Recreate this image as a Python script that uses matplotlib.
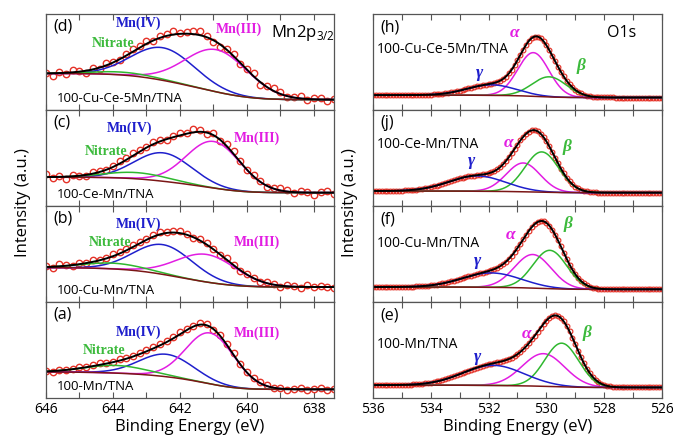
import numpy as np
import matplotlib.pyplot as plt
from matplotlib.ticker import MultipleLocator

plt.rcParams['font.family'] = ['Open Sans', 'DejaVu Sans']

# ---- data (intensity in arbitrary units, 0-100 per panel) ----
# Mn 2p3/2 panels, top to bottom
mn_tags = ['(d)', '(c)', '(b)', '(a)']
mn_samples = ['100-Cu-Ce-5Mn/TNA', '100-Ce-Mn/TNA', '100-Cu-Mn/TNA', '100-Mn/TNA']
# component order: Mn(IV), Mn(III), Nitrate
mn_center = [[642.5, 640.9, 643.7], [642.5, 641.0, 643.3],
             [642.5, 641.2, 644.0], [642.4, 641.1, 643.9]]
mn_height = [[34.0, 44.0, 3.0], [29.6, 48.6, 6.5],
             [31.0, 28.8, 6.0], [23.4, 53.0, 8.0]]
mn_fwhm = [[2.2, 2.2, 2.2], [2.0, 1.9, 2.2],
           [2.05, 2.1, 2.2], [1.9, 1.7, 2.2]]
mn_bg_left = [38.0, 30.0, 35.8, 27.1]
mn_bg_right = [10.8, 13.9, 15.6, 9.0]
# measured points minus fit, every 0.2 eV from 646.0 to 637.2
mn_resid = [
    [0.5, -2.5, 1.0, -1.5, 2.0, 0.5, -2.0, 1.5, -1.0, 2.5, 1.0, -0.5, 2.0, 3.0, 1.5,
     2.5, -1.0, 1.5, 2.0, 3.5, 1.0, 2.0, 3.0, 4.0, 1.5, -2.0, -3.0, 1.0, 2.5, -1.5,
     0.5, 3.0, -2.5, 1.5, 3.5, 2.0, -1.0, 0.5, 2.5, -1.5, 1.0, 2.0, -2.0, 0.5, 1.5],
    [3.0, -1.5, 1.0, -2.0, 1.5, 0.0, -1.0, 1.5, 0.5, -0.5, 1.0, 2.5, 2.0, 3.0, 1.5,
     0.5, 2.0, 1.0, -1.0, 1.5, 2.5, 1.0, 3.5, 1.5, -1.0, 2.0, -1.5, 2.5, 3.0, 1.0,
     -0.5, 2.0, 1.0, -1.5, 0.5, 2.5, 1.5, -1.0, 1.5, 0.5, -2.0, 1.0, 2.0, -1.5, 0.5],
    [1.0, -1.0, 2.0, 0.5, -0.5, 1.0, 0.0, 1.5, 0.5, 1.0, 2.0, 1.5, 1.0, 2.0, 1.5,
     1.0, 2.0, 2.5, 1.0, 1.5, 2.0, 1.0, -0.5, 1.5, 2.0, 0.5, -1.0, 1.5, 0.5, -0.5,
     1.0, 0.0, -1.0, 1.0, 0.5, -1.5, 1.5, 0.5, -1.0, 1.5, -0.5, 1.0, 0.5, -1.0, 0.5],
    [0.5, -0.5, 0.5, 0.0, 0.5, 1.0, 0.5, 1.0, 1.5, 1.0, 0.5, 1.5, 1.0, 0.5, 1.5,
     1.0, 2.0, 1.5, 1.0, 1.5, 2.0, 1.0, 0.5, 1.5, 1.0, -0.5, 0.5, 1.0, 1.5, 0.5,
     1.0, 0.5, 1.5, 1.0, 0.0, 1.0, -0.5, 0.5, 1.0, -0.5, 0.5, 1.0, -0.5, 0.5, 0.0],
]

# O 1s panels, top to bottom
o_tags = ['(h)', '(j)', '(f)', '(e)']
o_samples = ['100-Cu-Ce-5Mn/TNA', '100-Ce-Mn/TNA', '100-Cu-Mn/TNA', '100-Mn/TNA']
# component order: alpha, beta, gamma
o_center = [[530.45, 529.9, 531.9], [530.8, 530.16, 532.4],
            [530.47, 529.88, 531.9], [530.1, 529.47, 531.84]]
o_height = [[45.5, 21.0, 11.0], [30.0, 42.0, 16.0],
            [35.0, 40.0, 15.0], [34.0, 45.5, 21.0]]
o_fwhm = [[1.27, 1.4, 2.0], [1.38, 1.38, 2.3],
          [1.5, 1.38, 2.4], [1.73, 1.38, 2.5]]
o_bg_left = [15.5, 15.6, 15.6, 13.4]
o_bg_right = [13.0, 13.9, 13.2, 11.0]

mn_ticks = [646, 644, 642, 640, 638]
o_ticks = [536, 534, 532, 530, 528, 526]

C_RED = '#e53228'
C_BLUE = '#1f1fcc'
C_MAG = '#e21de2'
C_GREEN = '#2fb82f'
C_BROWN = '#7b1616'


def peaks(x, centers, heights, fwhms):
    out = []
    for c, h, w in zip(centers, heights, fwhms):
        s = w / 2.3548
        out.append(h * np.exp(-(x - c) ** 2 / (2 * s * s)))
    return out


def shirley(x, total, b_left, b_right):
    # x runs from high to low binding energy
    rev = total[::-1]
    cum = np.cumsum(rev)
    frac = (cum / cum[-1])[::-1]
    return b_right + (b_left - b_right) * frac


fig = plt.figure(figsize=(6.73, 4.41), dpi=100)
W, H = 673.0, 441.0
top_px, bot_px = 14.0, 398.0
ph = (bot_px - top_px) / 4


def make_axes(left_px, right_px, i):
    # i = 0 is the top panel
    y_bottom = top_px + (i + 1) * ph
    return fig.add_axes([left_px / W, 1 - y_bottom / H,
                         (right_px - left_px) / W, ph / H])


def style(ax, xlim, ticks, last):
    ax.set_xlim(*xlim)
    ax.set_ylim(0, 100)
    ax.set_yticks([])
    ax.xaxis.set_minor_locator(MultipleLocator(1))
    ax.set_xticks(ticks)
    ax.tick_params(axis='x', which='both', direction='in', top=True,
                   length=4, width=0.8, color='#555555', labelsize=10, pad=3)
    for sp in ax.spines.values():
        sp.set_color('#555555')
        sp.set_linewidth(0.9)
    if not last:
        ax.set_xticklabels([])
    else:
        ax.set_xlabel('Binding Energy (eV)', fontsize=12, labelpad=1)


# Mn label positions (eV, y) for Mn(IV), Mn(III), Nitrate
mn_lab = [[(643.25, 90), (640.25, 84), (644.0, 69)],
          [(643.5, 81), (639.7, 71), (644.2, 57)],
          [(643.25, 81), (639.7, 62), (644.1, 62)],
          [(643.25, 68), (639.7, 67), (644.25, 49)]]
mn_names = ['Mn(IV)', 'Mn(III)', 'Nitrate']
mn_cols = [C_BLUE, C_MAG, '#3cba3c']
xm = np.linspace(646.2, 637.0, 600)
xm_pts = np.round(np.arange(646.0, 637.15, -0.2), 2)

for i in range(4):
    ax = make_axes(46, 334, i)
    comps = peaks(xm, mn_center[i], mn_height[i], mn_fwhm[i])
    tot = np.sum(comps, axis=0)
    bg = shirley(xm, tot, mn_bg_left[i], mn_bg_right[i])
    cp = peaks(xm_pts, mn_center[i], mn_height[i], mn_fwhm[i])
    tp = np.sum(cp, axis=0)
    bgp = np.interp(xm_pts[::-1], xm[::-1], bg[::-1])[::-1]
    meas = tp + bgp + np.array(mn_resid[i])
    ax.plot(xm_pts, meas, 'o', ms=4.6, mfc='none', mec=C_RED, mew=1.0)
    for comp, col in zip(comps, [C_BLUE, C_MAG, C_GREEN]):
        ax.plot(xm, comp + bg, color=col, lw=1.1)
    ax.plot(xm, bg, color=C_BROWN, lw=1.1)
    ax.plot(xm, tot + bg, color='black', lw=1.4)
    for (lx, ly), name, col in zip(mn_lab[i], mn_names, mn_cols):
        ax.text(lx, ly, name, color=col, fontsize=10, fontweight='bold',
                family='Liberation Serif', ha='center', va='center')
    ax.text(0.025, 0.87, mn_tags[i], transform=ax.transAxes, fontsize=11.5,
            va='center', ha='left')
    ax.text(0.037, 0.12, mn_samples[i], transform=ax.transAxes, fontsize=9.5,
            va='center', ha='left')
    if i == 0:
        ax.text(0.78, 0.8, r'Mn2p$_{\mathregular{3/2}}$', transform=ax.transAxes,
                fontsize=12, va='center', ha='left')
    style(ax, (646, 637.4), mn_ticks, i == 3)

# O 1s label positions (eV, y) for alpha, beta, gamma
o_lab = [[(531.1, 80), (528.8, 46), (532.3, 39)],
         [(531.3, 66), (529.3, 61), (532.6, 47)],
         [(531.25, 70), (529.25, 81), (532.4, 43)],
         [(530.7, 67), (528.6, 68), (532.4, 43)]]
o_greek = ['α', 'β', 'γ']
o_cols = [C_MAG, '#3cba3c', C_BLUE]
o_sample_y = [0.63, 0.64, 0.61, 0.56]
xo = np.linspace(536.2, 525.8, 600)
xo_pts = np.round(np.arange(536.0, 525.95, -0.1), 2)

for i in range(4):
    ax = make_axes(373, 662, i)
    comps = peaks(xo, o_center[i], o_height[i], o_fwhm[i])
    tot = np.sum(comps, axis=0)
    bg = shirley(xo, tot, o_bg_left[i], o_bg_right[i])
    cp = peaks(xo_pts, o_center[i], o_height[i], o_fwhm[i])
    tp = np.sum(cp, axis=0)
    bgp = np.interp(xo_pts[::-1], xo[::-1], bg[::-1])[::-1]
    ax.plot(xo_pts, tp + bgp, 'o', ms=3.4, mfc='none', mec=C_RED, mew=0.85)
    for comp, col in zip(comps, [C_MAG, C_GREEN, C_BLUE]):
        ax.plot(xo, comp + bg, color=col, lw=1.1)
    ax.plot(xo, bg, color=C_BROWN, lw=1.1)
    ax.plot(xo, tot + bg, color='black', lw=1.4)
    for (lx, ly), name, col in zip(o_lab[i], o_greek, o_cols):
        ax.text(lx, ly, name, color=col, fontsize=12.5, fontweight='bold',
                style='italic', family='Liberation Serif', ha='center', va='center')
    ax.text(0.024, 0.86, o_tags[i], transform=ax.transAxes, fontsize=11.5,
            va='center', ha='left')
    ax.text(0.012, o_sample_y[i], o_samples[i], transform=ax.transAxes,
            fontsize=10, va='center', ha='left')
    if i == 0:
        ax.text(0.81, 0.8, 'O1s', transform=ax.transAxes, fontsize=11.5,
                va='center', ha='left')
    style(ax, (536, 526), o_ticks, i == 3)

fig.text(23 / W, 1 - 203 / H, 'Intensity (a.u.)', rotation=90, fontsize=12,
         ha='center', va='center')
fig.text(350 / W, 1 - 203 / H, 'Intensity (a.u.)', rotation=90, fontsize=12,
         ha='center', va='center')

fig.savefig('out.png', dpi=100)
